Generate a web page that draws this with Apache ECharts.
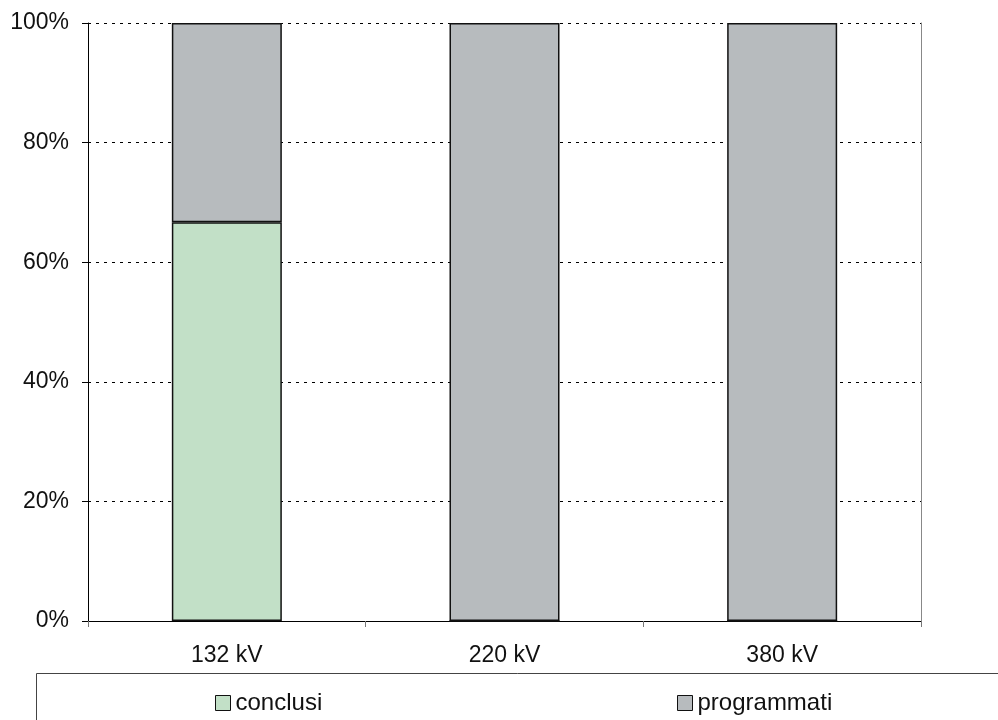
<!DOCTYPE html>
<html><head><meta charset="utf-8">
<script src="https://cdn.jsdelivr.net/npm/echarts@6/dist/echarts.min.js"></script>
<style>html,body{margin:0;padding:0;background:#fff}#c{width:998px;height:720px}</style>
</head><body><div id="c"></div>
<script>
const categories = ['132 kV', '220 kV', '380 kV'];
const conclusi = [66.7, 0, 0];
const programmati = [33.3, 100, 100];
const yTicks = [0, 20, 40, 60, 80, 100];

const chart = echarts.init(document.getElementById('c'));
const font = 'Liberation Sans, Arial, sans-serif';
chart.setOption({
  animation: false,
  grid: { left: 88, right: 77, top: 23, bottom: 99 },
  xAxis: {
    type: 'category', data: categories,
    axisLine: { lineStyle: { color: '#000', width: 1 } },
    axisTick: { show: true, length: 6, lineStyle: { color: '#777' } },
    axisLabel: { fontFamily: font, fontSize: 23, color: '#111', margin: 23 }
  },
  yAxis: [{
    type: 'value', min: 0, max: 100, interval: 20,
    axisLine: { show: true, lineStyle: { color: '#000' } },
    axisTick: { show: true, length: 6, lineStyle: { color: '#000' } },
    axisLabel: { fontFamily: font, fontSize: 23, color: '#111', margin: 19,
      formatter: v => yTicks.includes(v) ? v + '%' : '' },
    splitLine: { show: true, lineStyle: { color: '#000', type: [3, 5], width: 1 } }
  }, {
    type: 'value', min: 0, max: 100, position: 'right',
    axisLine: { show: true, lineStyle: { color: '#888' } },
    axisTick: { show: false }, axisLabel: { show: false }, splitLine: { show: false }
  }],
  legend: [{
    data: [{ name: 'conclusi', icon: 'rect' }], left: 210, top: 686, itemWidth: 15, itemHeight: 15, itemGap: 6,
    itemStyle: { borderColor: '#111', borderWidth: 1 },
    textStyle: { fontFamily: font, fontSize: 24, color: '#111' }
  }, {
    data: [{ name: 'programmati', icon: 'rect' }], left: 672, top: 686, itemWidth: 15, itemHeight: 15, itemGap: 6,
    itemStyle: { borderColor: '#111', borderWidth: 1 },
    textStyle: { fontFamily: font, fontSize: 24, color: '#111' }
  }],
  graphic: [{
    type: 'rect', shape: { x: 36.5, y: 673.5, width: 1000, height: 100 },
    style: { fill: 'none', stroke: '#444', lineWidth: 1 }, z: -1
  }],
  series: [{
    name: 'conclusi', type: 'bar', stack: 's', data: conclusi, barWidth: 110,
    itemStyle: { color: '#c2e0c7', borderColor: '#111', borderWidth: 1.5 }
  }, {
    name: 'programmati', type: 'bar', stack: 's', data: programmati, barWidth: 110,
    itemStyle: { color: '#b7bbbe', borderColor: '#111', borderWidth: 1.5 }
  }]
});
</script></body></html>
